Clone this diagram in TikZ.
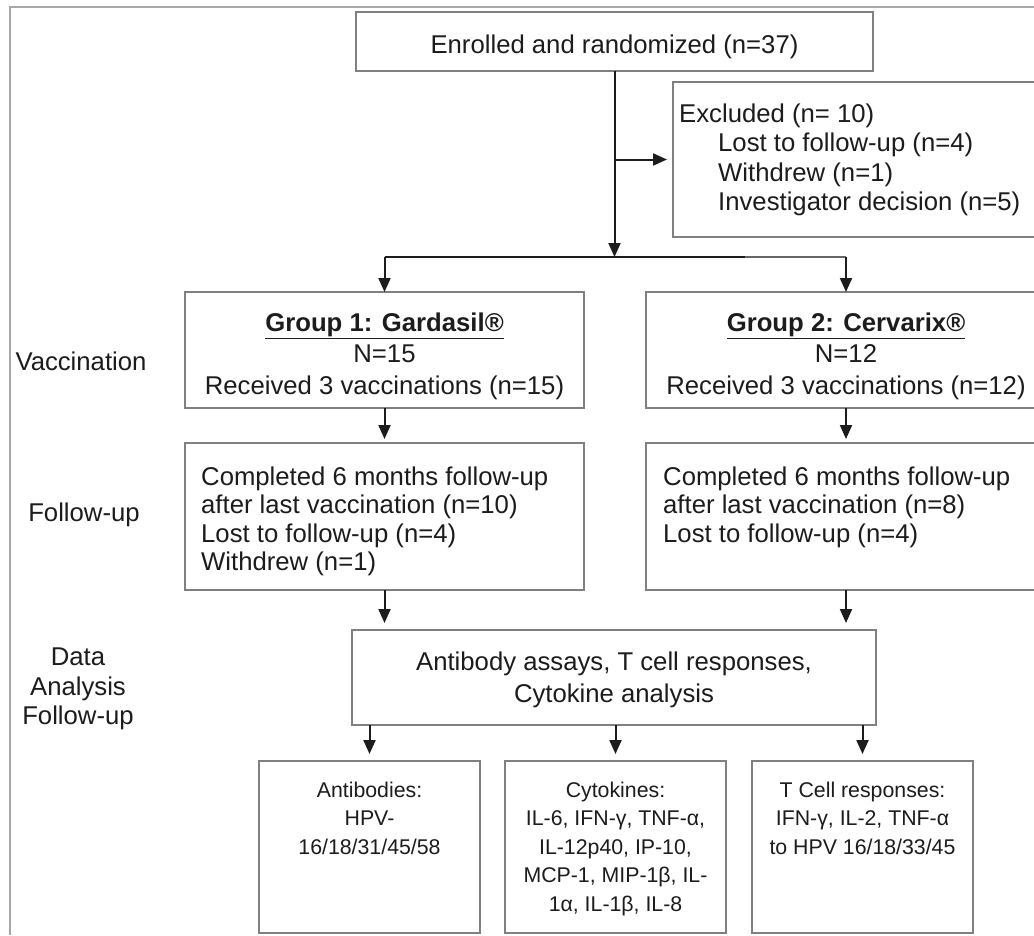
\documentclass[tikz,border=0pt]{standalone}
\usepackage{fontspec}
\setmainfont{Liberation Sans}
\usetikzlibrary{arrows.meta}
\definecolor{ink}{HTML}{1C1C1C}
\definecolor{boxgray}{HTML}{808080}
\definecolor{framegray}{HTML}{A8A8A8}
\definecolor{thingray}{HTML}{666666}
\begin{document}
\begin{tikzpicture}[x=1pt,y=-1pt,
 box/.style={draw=boxgray,line width=1.8pt,inner sep=0pt,outer sep=0pt,anchor=north west},
 big/.style={text=ink,inner sep=0pt,font=\fontsize{25.7pt}{30pt}\selectfont},
 small/.style={text=ink,inner sep=0pt,font=\fontsize{21.3pt}{26pt}\selectfont},
 conn/.style={draw=ink,line width=2pt,-{Triangle[length=14pt,width=12pt]}},
]
\useasboundingbox (0,0) rectangle (1034,935);
\clip (0,0) rectangle (1034,935);
\fill[white] (0,0) rectangle (1034,935);
\draw[framegray,line width=2pt] (10,935) -- (10,7) -- (1034,7);

% boxes
\node[box,minimum width=517pt,minimum height=59pt] (enrol) at (356,12) {};
\node[box,minimum width=373pt,minimum height=155pt] (excl) at (673,82) {};
\node[box,minimum width=399pt,minimum height=116pt] (g1) at (185,292) {};
\node[box,minimum width=400pt,minimum height=116pt] (g2) at (646,292) {};
\node[box,minimum width=399pt,minimum height=147pt] (f1) at (185,443) {};
\node[box,minimum width=400pt,minimum height=147pt] (f2) at (646,443) {};
\node[box,minimum width=524pt,minimum height=95pt] (da) at (352,630) {};
\node[box,minimum width=221pt,minimum height=172pt] (b1) at (259,761) {};
\node[box,minimum width=221pt,minimum height=172pt] (b2) at (505,761) {};
\node[box,minimum width=221pt,minimum height=172pt] (b3) at (752,761) {};

% connectors
\coordinate (ysplit) at (0,257);
\coordinate (split) at (enrol.south |- ysplit);
\coordinate (sl) at (g1.north |- ysplit);
\coordinate (sm) at (745,257);
\coordinate (sr) at (g2.north |- ysplit);
\draw[conn] (enrol.south) -- (split);
\draw[conn,shorten >=6pt] (enrol.south |- excl.west) -- (excl.west);
\draw[ink,line width=2.4pt] (sl) -- (sm);
\draw[thingray,line width=1.2pt] (sm) -- (sr);
\draw[conn] (sl) -- (g1.north);
\draw[conn] (sr) -- (g2.north);
\draw[conn,shorten >=4pt] (g1.south) -- (f1.north);
\draw[conn,shorten >=4pt] (g2.south) -- (f2.north);
\draw[conn,shorten >=7pt] (f1.south) -- (f1.south |- da.north);
\draw[conn,shorten >=7pt] (f2.south) -- (f2.south |- da.north);
\draw[conn,shorten >=7pt] (b1.north |- da.south) -- (b1.north);
\draw[conn,shorten >=7pt] (b2.north |- da.south) -- (b2.north);
\draw[conn,shorten >=7pt] (b3.north |- da.south) -- (b3.north);

% texts
\node[big,anchor=base] (t0) at (614.5,53) {Enrolled and randomized (n=37)};

\node[big,anchor=base west] (e1) at (679,122) {Excluded (n= 10)};
\node[big,anchor=base west] (e2) at (718,151.5) {Lost to follow-up (n=4)};
\node[big,anchor=base west] (e3) at (718,181) {Withdrew (n=1)};
\node[big,anchor=base west] (e4) at (718,210) {Investigator decision (n=5)};

\node[big,anchor=base] (g1a) at (384.5,331) {\bfseries\underline{Group 1: Gardasil®}};
\node[big,anchor=base] (g1b) at (384.5,362.5) {N=15};
\node[big,anchor=base] (g1c) at (384.5,394) {Received 3 vaccinations (n=15)};
\node[big,anchor=base] (g2a) at (846,331) {\bfseries\underline{Group 2: Cervarix®}};
\node[big,anchor=base] (g2b) at (846,362.5) {N=12};
\node[big,anchor=base] (g2c) at (846,394) {Received 3 vaccinations (n=12)};

\node[big,anchor=base west] (f1a) at (201,485) {Completed 6 months follow-up};
\node[big,anchor=base west] (f1b) at (201,513.5) {after last vaccination (n=10)};
\node[big,anchor=base west] (f1c) at (201,542) {Lost to follow-up (n=4)};
\node[big,anchor=base west] (f1d) at (201,570.5) {Withdrew (n=1)};
\node[big,anchor=base west] (f2a) at (663,485) {Completed 6 months follow-up};
\node[big,anchor=base west] (f2b) at (663,513.5) {after last vaccination (n=8)};
\node[big,anchor=base west] (f2c) at (663,542) {Lost to follow-up (n=4)};

\node[big,anchor=base] (d1) at (614,670) {Antibody assays, T cell responses,};
\node[big,anchor=base] (d2) at (614,702) {Cytokine analysis};

\node[small,anchor=base] (a1) at (369.5,797) {Antibodies:};
\node[small,anchor=base] (a2) at (369.5,825.5) {HPV-};
\node[small,anchor=base] (a3) at (369.5,854) {16/18/31/45/58};

\node[small,anchor=base] (c1) at (615.5,797) {Cytokines:};
\node[small,anchor=base] (c2) at (615.5,825.5) {IL-6, IFN-γ, TNF-α,};
\node[small,anchor=base] (c3) at (615.5,854) {IL-12p40, IP-10,};
\node[small,anchor=base] (c4) at (615.5,882.5) {MCP-1, MIP-1β, IL-};
\node[small,anchor=base] (c5) at (615.5,911) {1α, IL-1β, IL-8};

\node[small,anchor=base] (r1) at (862.5,797) {T Cell responses:};
\node[small,anchor=base] (r2) at (862.5,825.5) {IFN-γ, IL-2, TNF-α};
\node[small,anchor=base] (r3) at (862.5,854) {to HPV 16/18/33/45};

\node[big,anchor=base] (lv) at (81,370) {Vaccination};
\node[big,anchor=base] (lf) at (84,521) {Follow-up};
\node[big,anchor=base] (ld1) at (78,665) {Data};
\node[big,anchor=base] (ld2) at (78,695) {Analysis};
\node[big,anchor=base] (ld3) at (78,724) {Follow-up};
\end{tikzpicture}
\end{document}
